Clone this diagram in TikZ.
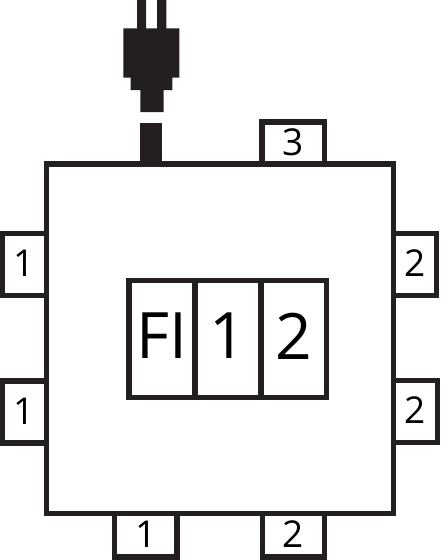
\documentclass[tikz,border=0pt]{standalone}
\usepackage{fontspec}
\setmainfont{Open Sans}
\definecolor{ink}{HTML}{231F20}
\tikzset{
  x=1pt,y=-1pt,
  boxbase/.style={draw=ink,line width=5.5pt,fill=white,inner sep=0pt,text=black,anchor=center,line join=miter},
  tab/.style={boxbase,font=\fontsize{37}{37}\selectfont,text depth=2pt},
  cell/.style={boxbase,minimum width=66pt,minimum height=117pt,font=\fontsize{64}{64}\selectfont,text depth=6pt},
  plugpart/.style={fill=ink,draw=none}
}
\begin{document}
\begin{tikzpicture}
\useasboundingbox[fill=white] (0,0) rectangle (440,560);
% tabs
\node[tab,minimum width=44pt,minimum height=62pt] (l1) at (24.5,264.5) {1};
\node[tab,minimum width=44pt,minimum height=62pt] (l2) at (24.5,412) {1};
\node[tab,minimum width=43pt,minimum height=62pt] (r1) at (415,264.5) {2};
\node[tab,minimum width=44pt,minimum height=62pt] (r2) at (415.5,411.5) {2};
\node[tab,minimum width=62.5pt,minimum height=43.5pt] (b1) at (145.75,535.25) {1};
\node[tab,minimum width=62pt,minimum height=43.5pt] (b2) at (293.5,535.25) {2};
\node[tab,minimum width=62.5pt,minimum height=42pt] (t1) at (293.25,143) {3};
% main box
\node[boxbase,fill=none,minimum width=347pt,minimum height=349.5pt] (main) at (220,338.75) {};
% display
\node[cell] (fi) at (162,339) {FI};
\node[cell] (one) at (228,339) {1};
\node[cell,minimum width=65.5pt] (two) at (293.75,339) {2};
% plug
\fill[plugpart] (137,0) rectangle (146,29) (157,0) rectangle (166.3,29);
\fill[plugpart] (123.3,28.3) -- (179.3,28.3) -- (179.3,77.7) -- (172.3,77.7) -- (172.3,90)
  -- (163.7,90) -- (163.7,112) -- (140.3,112) -- (140.3,90) -- (130.7,90) -- (130.7,77.7) -- (123.3,77.7) -- cycle;
\fill[plugpart] (140,122.7) rectangle (162.3,165);
\end{tikzpicture}
\end{document}
